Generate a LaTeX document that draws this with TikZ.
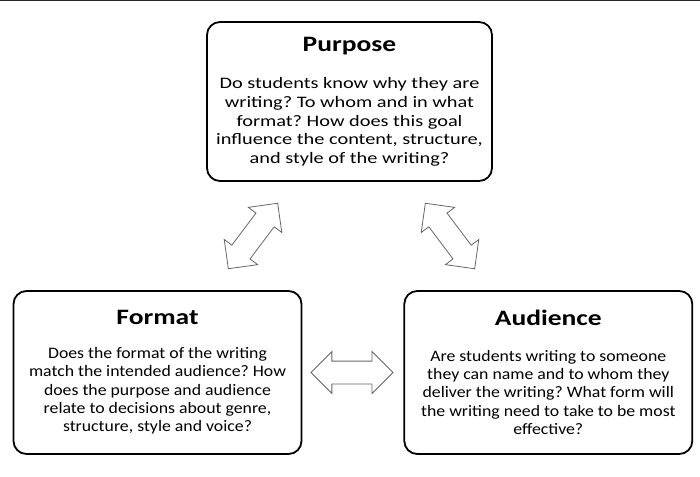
\documentclass[tikz,border=0pt]{standalone}
\usepackage{fontspec}
\setmainfont{Carlito}[FakeStretch=1.25]
\newfontfamily\widebody{Carlito}[FakeStretch=1.27]
\newfontfamily\narrowbody{Carlito}[FakeStretch=1.11]
\usetikzlibrary{shapes.arrows,positioning}

\newcommand{\cardtitle}[1]{{\normalfont\fontsize{22}{26}\selectfont\bfseries #1}}

\begin{document}
\frenchspacing
\begin{tikzpicture}[x=1pt,y=-1pt,
                    card/.style={draw,line width=1.8pt,rounded corners=13pt,
                      minimum width=288pt,minimum height=163pt,
                      align=center,font=\narrowbody\fontsize{16}{18.4}\selectfont},
                    twoway/.style={double arrow,draw=black!60,fill=white,line width=0.8pt,
                      minimum height=82pt,inner xsep=0pt,inner ysep=11pt,
                      double arrow head extend=9.5pt,double arrow tip angle=90}]

  \useasboundingbox (0,0) rectangle (700,476);
  \draw[line width=1.5pt,black!85] (0,0.75) -- (700,0.75);

  \node[card,minimum width=285pt,minimum height=159pt,
        font=\widebody\fontsize{16}{18.7}\selectfont] (purpose) at (349.5,101.5)
    {\cardtitle{Purpose}\\[19pt]
     Do students know why they are\\ writing? To whom and in what\\
     format? How does this goal\\ influence the content, structure,\\
     and style of the writing?};
  \node[card] (format) at (157.5,372.5)
    {\cardtitle{Format}\\[15pt]
     Does the format of the writing\\ match the intended audience? How\\
     does the purpose and audience\\ relate to decisions about genre,\\
     structure, style and voice?};
  \node[card] (audience) [right=101pt of format]
    {\cardtitle{Audience}\\[17pt]
     Are students writing to someone\\ they can name and to whom they\\
     deliver the writing? What form will\\ the writing need to take to be most\\
     effective?};

  \node[twoway]            (fa) [right=8pt of format] {};
  \node[twoway,rotate=53]  (pf) at (253,236) {};
  \node[twoway,rotate=-53] (pa) at (450,236) {};
\end{tikzpicture}
\end{document}
